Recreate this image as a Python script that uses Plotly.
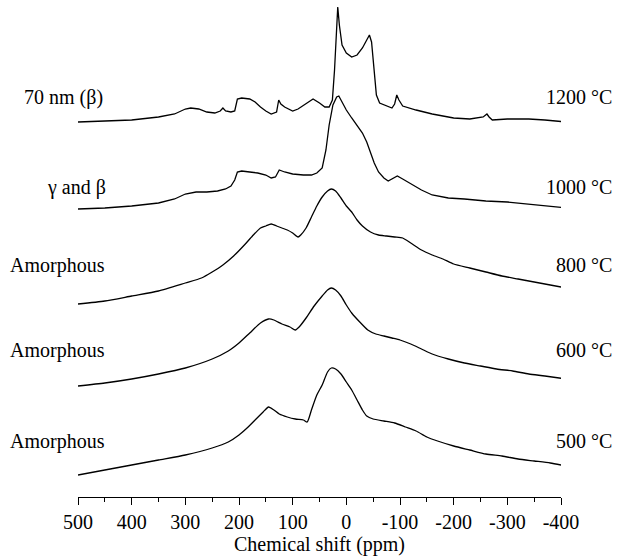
import plotly.graph_objects as go

# Chemical shift axis
tick_values = [500, 400, 300, 200, 100, 0, -100, -200, -300, -400]
tick_labels = ["500", "400", "300", "200", "100", "0", "-100", "-200", "-300", "-400"]

# Spectra: ppm positions and relative intensities
ppm_1200 = [500, 450, 400, 350, 320, 300, 290, 275, 260, 245, 235, 230, 225, 215, 208, 203, 195, 180, 170, 160,
            150, 140, 130, 126, 122, 115, 100, 90, 75, 62, 50, 40, 32, 26, 22, 19, 16, 13, 8, 0,
            -10, -20, -30, -38, -43, -47, -52, -56, -62, -75, -85, -90, -94, -98, -105, -130, -160, -200, -230, -255,
            -262, -266, -272, -300, -340, -370, -390, -410]
int_1200 = [0, 1, 2, 5, 8, 13, 14, 13, 10, 9, 11, 14, 11, 10, 11, 23, 24, 23, 20, 15,
            11, 8, 10, 22, 18, 15, 11, 13, 18, 23, 19, 15, 15, 22, 52, 92, 115, 97, 77, 69,
            65, 67, 74, 82, 87, 80, 52, 27, 19, 16, 14, 18, 27, 22, 16, 12, 8, 4, 3, 5,
            8, 5, 2, 3, 3, 2, 1, 0]

ppm_1000 = [500, 450, 400, 350, 320, 300, 280, 260, 240, 225, 215, 208, 203, 195, 180, 165, 150, 140, 132, 125,
            115, 100, 80, 65, 55, 45, 38, 32, 25, 18, 14, 8, 0, -10, -20, -30, -38, -45, -52, -60,
            -70, -78, -88, -95, -105, -120, -140, -160, -190, -220, -260, -300, -340, -380, -410]
int_1000 = [0, 1, 3, 6, 10, 15, 17, 17, 18, 20, 23, 29, 37, 38, 37, 36, 34, 31, 32, 39,
            37, 35, 34, 34, 36, 41, 59, 84, 104, 112, 113, 107, 99, 91, 83, 76, 67, 57, 46, 37,
            31, 28, 31, 33, 30, 25, 19, 14, 11, 10, 8, 7, 5, 3, 1]

ppm_800 = [500, 450, 400, 350, 300, 270, 250, 230, 210, 190, 175, 160, 150, 140, 130, 120, 110, 100, 90, 85,
           75, 65, 55, 45, 35, 28, 20, 10, 0, -10, -20, -30, -45, -60, -75, -90, -105, -120, -140, -160,
           -180, -200, -230, -260, -290, -320, -350, -380, -410]
int_800 = [0, 3, 8, 13, 21, 26, 32, 39, 48, 59, 68, 76, 78, 80, 78, 76, 74, 71, 67, 69,
           76, 87, 98, 107, 113, 115, 113, 106, 98, 92, 84, 78, 72, 69, 68, 67, 66, 61, 54, 49,
           45, 40, 36, 32, 28, 25, 22, 19, 16]

ppm_600 = [500, 450, 400, 350, 300, 250, 220, 200, 180, 160, 145, 135, 120, 105, 95, 88, 75, 60, 45, 35,
           28, 20, 10, 0, -10, -25, -40, -55, -70, -85, -100, -120, -140, -160, -190, -220, -250, -280, -310, -340,
           -370, -410]
int_600 = [0, 3, 7, 12, 18, 27, 35, 43, 53, 63, 67, 66, 62, 59, 56, 59, 68, 80, 90, 96,
           98, 96, 90, 81, 73, 64, 56, 52, 50, 48, 46, 42, 37, 32, 27, 23, 20, 17, 15, 12,
           10, 7]

ppm_500 = [500, 450, 400, 350, 300, 250, 220, 200, 185, 170, 155, 145, 135, 125, 110, 95, 80, 73, 65, 55,
           45, 35, 28, 20, 10, 0, -10, -20, -30, -38, -50, -70, -90, -110, -130, -150, -170, -200, -230, -260,
           -290, -320, -350, -380, -410]
int_500 = [0, 5, 10, 15, 20, 27, 33, 40, 47, 55, 63, 68, 65, 61, 58, 56, 55, 53, 65, 80,
           90, 103, 107, 106, 101, 93, 85, 75, 65, 59, 56, 54, 52, 48, 44, 38, 34, 29, 25, 21,
           19, 16, 14, 12, 9]

temperatures = ["1200 °C", "1000 °C", "800 °C", "600 °C", "500 °C"]
phases = ["70 nm (β)", "γ and β", "Amorphous", "Amorphous", "Amorphous"]
offsets = [375, 288, 193, 111, 22]

spectra = [(ppm_1200, int_1200), (ppm_1000, int_1000), (ppm_800, int_800), (ppm_600, int_600), (ppm_500, int_500)]
shapes = ["linear", "linear", "spline", "spline", "spline"]

FONT = "Times New Roman, Liberation Serif, DejaVu Serif, serif"

fig = go.Figure()
for (ppm, inten), off, temp, shp in zip(spectra, offsets, temperatures, shapes):
    fig.add_trace(go.Scatter(
        x=ppm, y=[v + off for v in inten], mode="lines",
        line=dict(color="black", width=1.3, shape=shp, smoothing=0.6), name=temp, showlegend=False,
    ))

# labels
label_heights = [400, 310, 232, 147, 56]
phase_x = [-0.116, -0.068, -0.145, -0.145, -0.145]
for txt, px, h in zip(phases, phase_x, label_heights):
    fig.add_annotation(x=px, xref="paper", y=h, yref="y", text=txt, showarrow=False,
                       xanchor="left", yanchor="middle", font=dict(family=FONT, size=20, color="black"))
for txt, h in zip(temperatures, label_heights):
    fig.add_annotation(x=1.11, xref="paper", y=h, yref="y", text=txt, showarrow=False,
                       xanchor="right", yanchor="middle", font=dict(family=FONT, size=20, color="black"))

fig.update_layout(
    width=621, height=557,
    margin=dict(l=78, r=60, t=0, b=60),
    plot_bgcolor="white", paper_bgcolor="white",
    font=dict(family=FONT, size=20, color="black"),
    xaxis=dict(
        range=[500, -400], tickmode="array", tickvals=tick_values, ticktext=tick_labels,
        ticks="outside", ticklen=7, tickwidth=1, tickcolor="black",
        minor=dict(tickmode="linear", tick0=0, dtick=50, ticks="outside", ticklen=4, tickcolor="black", showgrid=False),
        showline=True, linecolor="black", linewidth=1, showgrid=False, zeroline=False,
        title=dict(text="Chemical shift (ppm)", font=dict(family=FONT, size=20), standoff=2),
        tickfont=dict(family=FONT, size=20),
    ),
    yaxis=dict(range=[0, 497], visible=False, showgrid=False, zeroline=False),
)

fig.write_html("out.html")
